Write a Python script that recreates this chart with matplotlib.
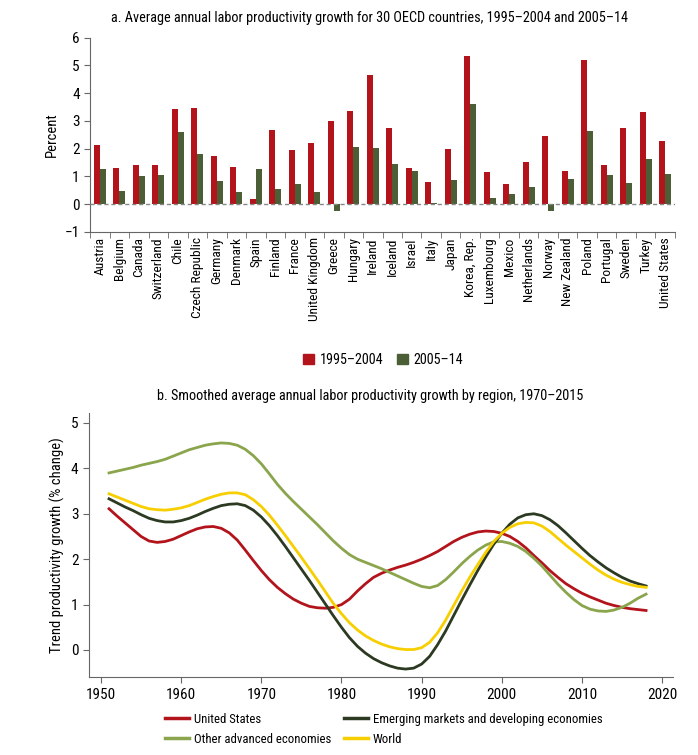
import numpy as np
import matplotlib
matplotlib.use("Agg")
import matplotlib.pyplot as plt
from matplotlib.patches import Patch
from matplotlib.lines import Line2D

plt.rcParams["font.family"] = ["Roboto Condensed", "Archivo Narrow", "DejaVu Sans"]

# Panel a data
countries = ["Austria", "Belgium", "Canada", "Switzerland", "Chile", "Czech Republic",
             "Germany", "Denmark", "Spain", "Finland", "France", "United Kingdom",
             "Greece", "Hungary", "Ireland", "Iceland", "Israel", "Italy", "Japan",
             "Korea, Rep.", "Luxembourg", "Mexico", "Netherlands", "Norway",
             "New Zealand", "Poland", "Portugal", "Sweden", "Turkey", "United States"]
growth_1995_2004 = [2.13, 1.29, 1.42, 1.42, 3.44, 3.48, 1.72, 1.35, 0.20, 2.68, 1.95, 2.22,
                    2.98, 3.36, 4.64, 2.73, 1.30, 0.81, 1.99, 5.35, 1.15, 0.74, 1.52, 2.47,
                    1.21, 5.18, 1.41, 2.73, 3.33, 2.27]
growth_2005_14 = [1.28, 0.48, 1.00, 1.05, 2.60, 1.80, 0.85, 0.45, 1.28, 0.53, 0.72, 0.42,
                  -0.25, 2.07, 2.01, 1.44, 1.18, 0.05, 0.86, 3.61, 0.22, 0.36, 0.62, -0.25,
                  0.91, 2.65, 1.05, 0.75, 1.64, 1.10]

# Panel b data (1951-2018)
years = list(range(1951, 2019))
united_states = [3.11, 2.95, 2.80, 2.65, 2.50, 2.40, 2.37, 2.39, 2.44, 2.52,
                 2.60, 2.67, 2.71, 2.72, 2.68, 2.58, 2.42, 2.20, 1.97, 1.75,
                 1.55, 1.38, 1.24, 1.12, 1.03, 0.96, 0.93, 0.92, 0.94, 1.00,
                 1.12, 1.30, 1.46, 1.60, 1.69, 1.76, 1.82, 1.87, 1.93, 2.00,
                 2.08, 2.17, 2.28, 2.39, 2.48, 2.55, 2.60, 2.62, 2.61, 2.57,
                 2.50, 2.39, 2.25, 2.08, 1.92, 1.75, 1.60, 1.46, 1.35, 1.25,
                 1.17, 1.10, 1.03, 0.98, 0.94, 0.91, 0.89, 0.87]
other_advanced = [3.90, 3.94, 3.98, 4.02, 4.07, 4.11, 4.15, 4.20, 4.27, 4.34,
                  4.41, 4.46, 4.51, 4.54, 4.56, 4.55, 4.51, 4.42, 4.28, 4.10,
                  3.88, 3.65, 3.45, 3.27, 3.10, 2.93, 2.76, 2.58, 2.40, 2.24,
                  2.10, 2.00, 1.93, 1.86, 1.79, 1.71, 1.63, 1.55, 1.47, 1.40,
                  1.37, 1.42, 1.55, 1.72, 1.90, 2.06, 2.20, 2.31, 2.38, 2.39,
                  2.35, 2.28, 2.17, 2.02, 1.85, 1.65, 1.45, 1.27, 1.11, 0.98,
                  0.90, 0.86, 0.85, 0.88, 0.94, 1.03, 1.14, 1.23]
emde = [3.33, 3.24, 3.15, 3.07, 2.98, 2.90, 2.85, 2.82, 2.82, 2.85,
        2.90, 2.97, 3.05, 3.12, 3.18, 3.21, 3.22, 3.18, 3.08, 2.93,
        2.74, 2.52, 2.28, 2.03, 1.78, 1.53, 1.27, 1.01, 0.75, 0.50,
        0.27, 0.08, -0.07, -0.19, -0.28, -0.35, -0.40, -0.42, -0.40, -0.31,
        -0.14, 0.12, 0.42, 0.76, 1.10, 1.43, 1.75, 2.05, 2.33, 2.57,
        2.77, 2.91, 2.98, 3.00, 2.96, 2.87, 2.74, 2.58, 2.41, 2.24,
        2.08, 1.94, 1.81, 1.70, 1.60, 1.52, 1.46, 1.41]
world = [3.44, 3.37, 3.30, 3.23, 3.16, 3.11, 3.09, 3.08, 3.10, 3.13,
         3.18, 3.25, 3.32, 3.38, 3.43, 3.46, 3.46, 3.42, 3.31, 3.16,
         2.97, 2.75, 2.52, 2.28, 2.04, 1.79, 1.54, 1.28, 1.02, 0.80,
         0.60, 0.44, 0.31, 0.21, 0.13, 0.07, 0.03, 0.01, 0.01, 0.05,
         0.17, 0.38, 0.66, 0.98, 1.30, 1.60, 1.88, 2.15, 2.39, 2.57,
         2.70, 2.78, 2.81, 2.80, 2.73, 2.61, 2.46, 2.31, 2.17, 2.03,
         1.89, 1.76, 1.65, 1.56, 1.49, 1.44, 1.40, 1.38]

RED = "#b3141c"
DKGREEN = "#4b5e35"
EMDE_C = "#2c3a22"
OLIVE = "#8aa54c"
YELLOW = "#f7cf00"
AXC = "#666666"

fig = plt.figure(figsize=(6.98, 7.55), dpi=100)

# ---- panel a ----
ax1 = fig.add_axes([0.129, 0.693, 0.838, 0.257])
x = np.arange(len(countries))
w = 0.3
ax1.bar(x - w / 2, growth_1995_2004, w, color=RED)
ax1.bar(x + w / 2, growth_2005_14, w, color=DKGREEN)
ax1.axhline(0, color="#888888", lw=1, ls=(0, (3, 2)), zorder=3)
ax1.set_xlim(-0.5, len(countries) - 0.5)
ax1.set_ylim(-1, 6)
ax1.set_yticks(range(-1, 7))
ax1.set_yticklabels(["\u22121", "0", "1", "2", "3", "4", "5", "6"])
ax1.set_xticks(x)
ax1.set_xticklabels(countries, rotation=90, fontsize=9.6)
ax1.set_xticks(np.arange(-0.5, len(countries)), minor=True)
ax1.tick_params(axis="x", which="major", length=0, pad=4)
ax1.tick_params(axis="x", which="minor", length=4, color=AXC)
ax1.tick_params(axis="y", labelsize=11, length=4, color=AXC)
ax1.set_ylabel("Percent", fontsize=10.5)
for s in ["top", "right"]:
    ax1.spines[s].set_visible(False)
for s in ["left", "bottom"]:
    ax1.spines[s].set_color(AXC)
fig.text(0.53, 0.976, "a. Average annual labor productivity growth for 30 OECD countries, 1995–2004 and 2005–14",
         ha="center", va="center", fontsize=10.3)
fig.legend(handles=[Patch(color=RED, label="1995–2004"), Patch(color=DKGREEN, label="2005–14")],
           loc="center", bbox_to_anchor=(0.549, 0.523), ncol=2, frameon=False, fontsize=10.2,
           handlelength=0.75, handleheight=0.75, handletextpad=0.4, columnspacing=1.0)

# ---- panel b ----
ax2 = fig.add_axes([0.1275, 0.103, 0.836, 0.350])
ax2.plot(years, united_states, color=RED, lw=2)
ax2.plot(years, other_advanced, color=OLIVE, lw=2)
ax2.plot(years, emde, color=EMDE_C, lw=2)
ax2.plot(years, world, color=YELLOW, lw=2)
ax2.set_xlim(1948.5, 2021.3)
ax2.set_ylim(-0.6, 5.22)
ax2.set_yticks(range(0, 6))
ax2.set_xticks(range(1950, 2021, 10))
ax2.tick_params(labelsize=11, length=4, color=AXC)
ax2.set_ylabel("Trend productivity growth (% change)", fontsize=10.5)
for s in ["top", "right"]:
    ax2.spines[s].set_visible(False)
for s in ["left", "bottom"]:
    ax2.spines[s].set_color(AXC)
fig.text(0.53, 0.4755, "b. Smoothed average annual labor productivity growth by region, 1970–2015",
         ha="center", va="center", fontsize=10.3)
handles = [Line2D([], [], color=RED, lw=2.5, label="United States"),
           Line2D([], [], color=OLIVE, lw=2.5, label="Other advanced economies"),
           Line2D([], [], color=EMDE_C, lw=2.5, label="Emerging markets and developing economies"),
           Line2D([], [], color=YELLOW, lw=2.5, label="World")]
fig.legend(handles=handles, loc="upper left", bbox_to_anchor=(0.236, 0.056), ncol=2,
           frameon=False, fontsize=9.2, handlelength=1.9, handletextpad=0.4,
           columnspacing=0.95, labelspacing=0.55, borderaxespad=0, borderpad=0)

fig.savefig("out.png", dpi=100)
